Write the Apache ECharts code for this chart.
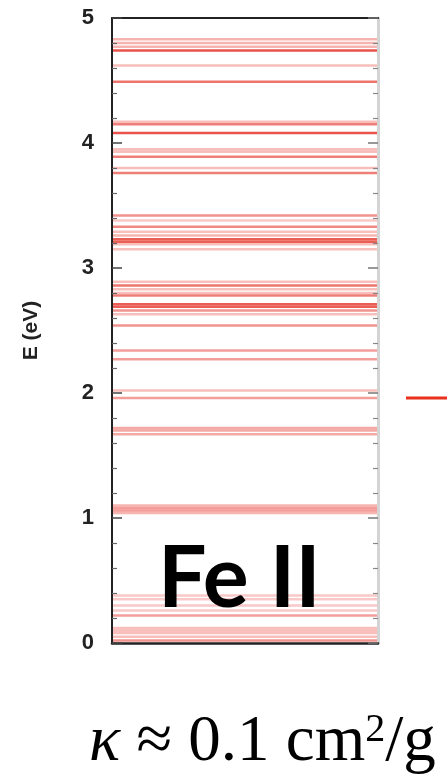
<!DOCTYPE html>
<html>
<head>
<meta charset="utf-8">
<script src="https://cdn.jsdelivr.net/npm/echarts@6/dist/echarts.min.js"></script>
<style>
  html, body { margin: 0; padding: 0; background: #fff; }
  #main { width: 447px; height: 776px; }
</style>
</head>
<body>
<div id="main"></div>
<script>
// energy levels of Fe II (eV) and how strong each line looks
var levels = [4.83, 4.80, 4.77, 4.74, 4.62, 4.49, 4.17, 4.15, 4.08, 3.95, 3.93, 3.89, 3.80, 3.76,
              3.42, 3.38, 3.33, 3.29, 3.26, 3.23, 3.21, 3.19, 3.15,
              2.89, 2.86, 2.83, 2.80, 2.78, 2.71, 2.69, 2.66, 2.63, 2.54, 2.34, 2.27, 2.02, 1.96,
              1.72, 1.70, 1.67, 1.10, 1.08, 1.06, 1.04,
              0.38, 0.35, 0.30, 0.26, 0.22, 0.12, 0.10, 0.08, 0.05, 0.02];
var strength = [0.35, 0.35, 0.35, 0.8, 0.3, 0.65, 0.3, 0.6, 0.8, 0.3, 0.3, 0.6, 0.3, 0.6,
                0.5, 0.25, 0.55, 0.3, 0.35, 0.75, 0.75, 0.3, 0.3,
                0.3, 0.65, 0.3, 0.3, 0.6, 0.75, 0.75, 0.5, 0.3, 0.5, 0.45, 0.45, 0.3, 0.45,
                0.4, 0.4, 0.4, 0.35, 0.45, 0.45, 0.35,
                0.25, 0.25, 0.25, 0.25, 0.45, 0.3, 0.3, 0.3, 0.3, 0.5];
var yTicks = ['0', '1', '2', '3', '4', '5'];
var arrowLevel = 1.96;

var chart = echarts.init(document.getElementById('main'));

var levelData = levels.map(function(e, i) { return [0, e, strength[i]]; });

var option = {
    animation: false,
    backgroundColor: '#fff',
    grid: [
        { left: 112, right: 69, top: 18, bottom: 133 },
        { left: 406, right: 0, top: 18, bottom: 133 }
    ],
    xAxis: [
        { gridIndex: 0, type: 'value', min: 0, max: 1, position: 'bottom', z: 5,
          axisLine: { show: true, onZero: false, lineStyle: { color: '#222', width: 2.5 } },
          axisTick: { show: false }, axisLabel: { show: false }, splitLine: { show: false } },
        { gridIndex: 0, type: 'value', min: 0, max: 1, position: 'top', z: 5,
          axisLine: { show: true, onZero: false, lineStyle: { color: '#222', width: 2 } },
          axisTick: { show: false }, axisLabel: { show: false }, splitLine: { show: false } },
        { gridIndex: 1, type: 'value', min: 0, max: 1, show: false }
    ],
    yAxis: [
        { gridIndex: 0, type: 'value', min: 0, max: 5, interval: 1, position: 'left', z: 5,
          name: 'E (eV)', nameLocation: 'middle', nameRotate: 90, nameGap: 70,
          nameTextStyle: { fontSize: 21, fontWeight: 'bold', color: '#222', fontFamily: 'Liberation Sans' },
          axisLine: { show: true, onZero: false, lineStyle: { color: '#222', width: 2 } },
          axisTick: { show: true, inside: true, length: 10, lineStyle: { color: '#444', width: 1.5 } },
          minorTick: { show: true, splitNumber: 5, length: 5, lineStyle: { color: '#666', width: 1.2 } },
          axisLabel: { margin: 18, fontSize: 22, fontWeight: 'bold', color: '#222', fontFamily: 'Liberation Sans',
                       formatter: function(v) { return yTicks[Math.round(v)]; } },
          splitLine: { show: false } },
        { gridIndex: 0, type: 'value', min: 0, max: 5, interval: 1, position: 'right', z: 5,
          axisLine: { show: true, onZero: false, lineStyle: { color: '#d4d4d4', width: 3 } },
          axisTick: { show: true, inside: true, length: 10, lineStyle: { color: '#777', width: 1.5 } },
          minorTick: { show: true, splitNumber: 5, length: 5, lineStyle: { color: '#888', width: 1.2 } },
          axisLabel: { show: false }, splitLine: { show: false } },
        { gridIndex: 1, type: 'value', min: 0, max: 5, show: false }
    ],
    series: [
        {
            type: 'custom',
            xAxisIndex: 0, yAxisIndex: 0,
            data: levelData,
            encode: { x: 0, y: 1 },
            renderItem: function(params, api) {
                var a = api.coord([0, api.value(1)]);
                var b = api.coord([1, api.value(1)]);
                return {
                    type: 'line',
                    shape: { x1: a[0], y1: a[1], x2: b[0], y2: b[1] },
                    style: { stroke: 'rgba(228,40,30,' + api.value(2) + ')', lineWidth: 2.5 }
                };
            }
        },
        {
            type: 'line',
            xAxisIndex: 2, yAxisIndex: 2,
            data: [[0, arrowLevel], [1, arrowLevel]],
            symbol: 'none',
            lineStyle: { color: '#e8301c', width: 3 }
        }
    ],
    graphic: [
        { type: 'text', left: 158, top: 536, z: 100,
          style: { text: 'Fe II', font: 'bold 86px Lato', fill: '#000' } },
        { type: 'text', left: 89, top: 710, z: 100,
          style: {
              text: '{k|κ}{t| ≈ 0.1 cm}{s|2}{t|/g}',
              rich: {
                  k: { font: 'italic 65px "Liberation Serif"', fill: '#000' },
                  t: { font: '65px "Liberation Serif"', fill: '#000' },
                  s: { font: '40px "Liberation Serif"', fill: '#000', verticalAlign: 'top' }
              }
          } }
    ]
};
chart.setOption(option);
</script>
</body>
</html>
